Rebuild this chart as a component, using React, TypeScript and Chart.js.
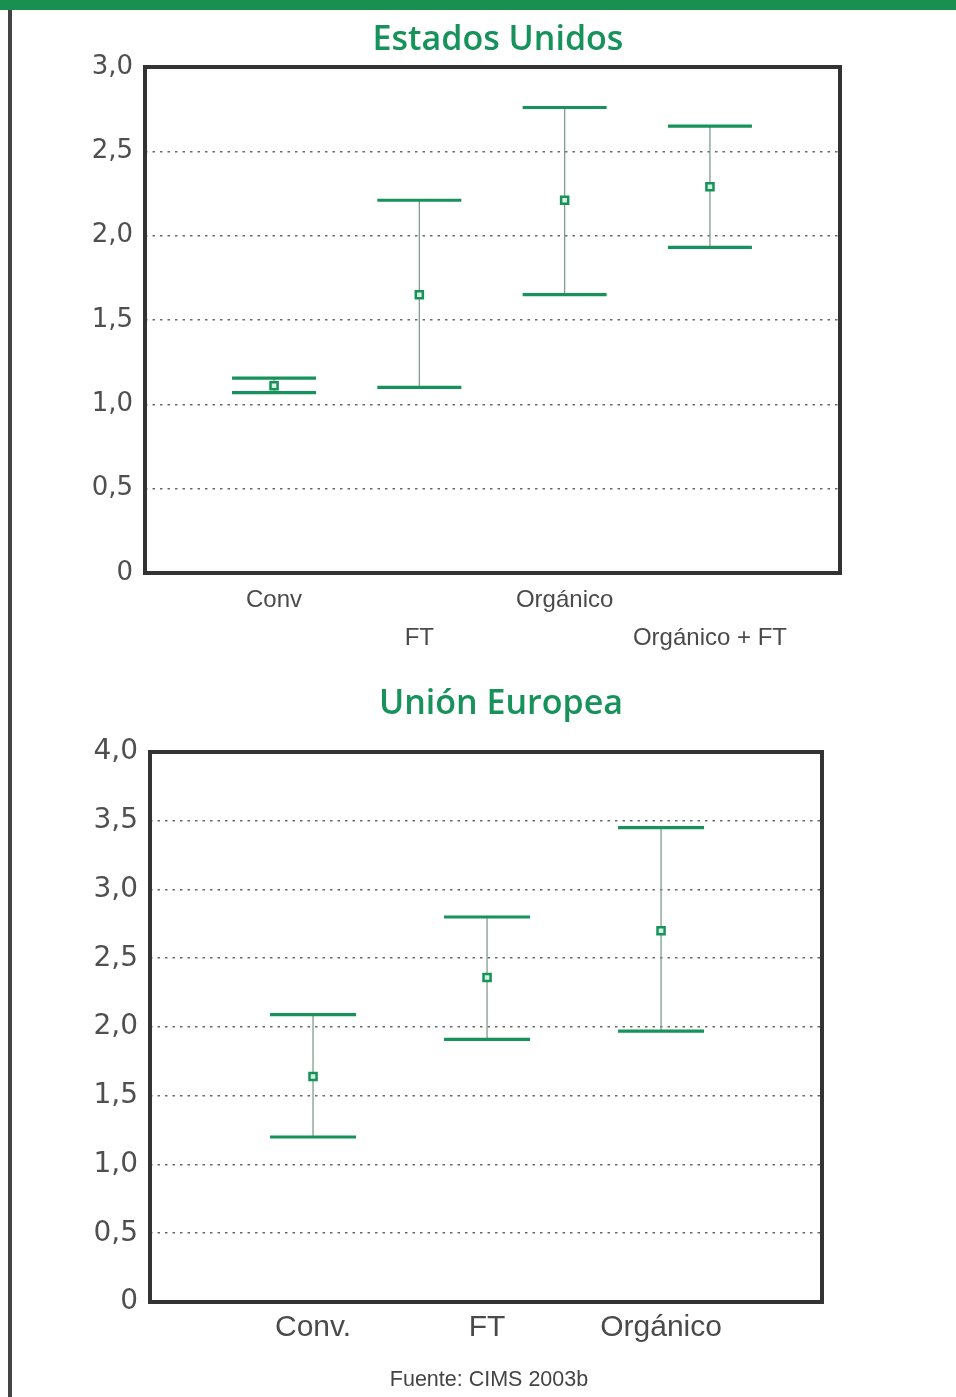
import React, { useEffect, useRef } from "react";
import { Chart, registerables } from "chart.js";

Chart.register(...registerables);

// ---------- Data ----------
const usCategories = ["Conv", "FT", "Orgánico", "Orgánico + FT"];
const usMean = [1.11, 1.65, 2.21, 2.29];
const usLow = [1.07, 1.1, 1.65, 1.93];
const usHigh = [1.155, 2.21, 2.76, 2.65];
const usYTicks = [0, 0.5, 1.0, 1.5, 2.0, 2.5, 3.0];

const euCategories = ["Conv.", "FT", "Orgánico"];
const euMean = [1.64, 2.36, 2.7];
const euLow = [1.2, 1.91, 1.97];
const euHigh = [2.09, 2.8, 3.45];
const euYTicks = [0, 0.5, 1.0, 1.5, 2.0, 2.5, 3.0, 3.5, 4.0];

const GREEN = "#17925a";

const fmt = (v: number) => (v === 0 ? "0" : v.toFixed(1).replace(".", ","));

const errorBarPlugin = {
  id: "errorBars",
  beforeDatasetsDraw(chart: any, _args: any, opts: any) {
    const { ctx, scales } = chart;
    const x = scales.x;
    const y = scales.y;
    (opts.low || []).forEach((lo: number, i: number) => {
      const hi = opts.high[i];
      const px = x.getPixelForValue(i);
      const yl = y.getPixelForValue(lo);
      const yh = y.getPixelForValue(hi);
      ctx.save();
      ctx.strokeStyle = "#7f9c8c";
      ctx.lineWidth = 1.3;
      ctx.beginPath();
      ctx.moveTo(px, yh);
      ctx.lineTo(px, yl);
      ctx.stroke();
      ctx.strokeStyle = GREEN;
      ctx.lineWidth = 3.2;
      ctx.beginPath();
      ctx.moveTo(px - opts.capHalf, yh);
      ctx.lineTo(px + opts.capHalf, yh);
      ctx.moveTo(px - opts.capHalf, yl);
      ctx.lineTo(px + opts.capHalf, yl);
      ctx.stroke();
      ctx.restore();
    });
  },
};

const framePlugin = {
  id: "frame",
  afterDraw(chart: any) {
    const { ctx, chartArea } = chart;
    ctx.save();
    ctx.strokeStyle = "#333";
    ctx.lineWidth = 4;
    ctx.strokeRect(
      chartArea.left,
      chartArea.top,
      chartArea.right - chartArea.left,
      chartArea.bottom - chartArea.top
    );
    ctx.restore();
  },
};

interface Cfg {
  categories: string[];
  mean: number[];
  low: number[];
  high: number[];
  yTicks: number[];
  xMin: number;
  xMax: number;
  yAxisWidth: number;
  xAxisHeight: number;
  padTop: number;
  padRight: number;
  yFont: number;
  xFont: number;
  xLineHeight: number;
  xPadding: number;
  stagger: boolean;
  capHalf: number;
}

function ErrorChart({ cfg, width, height }: { cfg: Cfg; width: number; height: number }) {
  const ref = useRef<HTMLCanvasElement | null>(null);
  useEffect(() => {
    if (!ref.current) return;
    const yMax = cfg.yTicks[cfg.yTicks.length - 1];
    const chart = new Chart(ref.current, {
      type: "scatter",
      data: {
        datasets: [
          {
            data: cfg.mean.map((m, i) => ({ x: i, y: m })),
            pointStyle: "rect",
            pointRadius: 5,
            pointBorderWidth: 2.5,
            pointBorderColor: GREEN,
            pointBackgroundColor: "#d8f2e2",
            showLine: false,
          } as any,
        ],
      },
      options: {
        responsive: false,
        animation: false,
        layout: { padding: { top: cfg.padTop, right: cfg.padRight, left: 0, bottom: 0 } },
        plugins: {
          legend: { display: false },
          tooltip: { enabled: false },
          errorBars: { low: cfg.low, high: cfg.high, capHalf: cfg.capHalf },
        } as any,
        scales: {
          x: {
            type: "linear",
            min: cfg.xMin,
            max: cfg.xMax,
            afterBuildTicks: (s: any) => {
              s.ticks = cfg.categories.map((_, i) => ({ value: i }));
            },
            afterFit: (s: any) => {
              s.height = cfg.xAxisHeight;
            },
            grid: { display: false, drawTicks: false },
            border: { display: false },
            ticks: {
              autoSkip: false,
              maxRotation: 0,
              minRotation: 0,
              padding: cfg.xPadding,
              color: "#4a4a4a",
              font: { family: "'Liberation Sans', Arial, sans-serif", size: cfg.xFont, lineHeight: cfg.xLineHeight },
              callback: (v: any) => {
                const i = Math.round(Number(v));
                const label = cfg.categories[i] ?? "";
                if (cfg.stagger && i % 2 === 1) return ["", label];
                return label;
              },
            },
          },
          y: {
            type: "linear",
            min: 0,
            max: yMax,
            afterBuildTicks: (s: any) => {
              s.ticks = cfg.yTicks.map((v) => ({ value: v }));
            },
            afterFit: (s: any) => {
              s.width = cfg.yAxisWidth;
            },
            grid: {
              drawTicks: false,
              lineWidth: 1.6,
              color: (ctx: any) =>
                ctx.tick && (ctx.tick.value === 0 || ctx.tick.value === yMax)
                  ? "rgba(0,0,0,0)"
                  : "#6a6a6a",
            },
            border: { display: false, dash: [2.5, 5] },
            ticks: {
              padding: 12,
              color: "#4f4f4f",
              font: { family: "'DejaVu Sans', Verdana, sans-serif", size: cfg.yFont },
              callback: (v: any) => fmt(Number(v)),
            },
          },
        },
      },
      plugins: [errorBarPlugin, framePlugin],
    });
    return () => chart.destroy();
  }, [cfg]);
  return <canvas ref={ref} width={width} height={height} style={{ display: "block" }} />;
}

const usCfg: Cfg = {
  categories: usCategories,
  mean: usMean,
  low: usLow,
  high: usHigh,
  yTicks: usYTicks,
  xMin: -0.888,
  xMax: 3.895,
  yAxisWidth: 145,
  xAxisHeight: 107,
  padTop: 67,
  padRight: 116,
  yFont: 26,
  xFont: 24,
  xLineHeight: 1.6,
  xPadding: 8,
  stagger: true,
  capHalf: 42,
};

const euCfg: Cfg = {
  categories: euCategories,
  mean: euMean,
  low: euLow,
  high: euHigh,
  yTicks: euYTicks,
  xMin: -0.937,
  xMax: 2.925,
  yAxisWidth: 150,
  xAxisHeight: 95,
  padTop: 72,
  padRight: 134,
  yFont: 28,
  xFont: 30,
  xLineHeight: 1.2,
  xPadding: 8,
  stagger: false,
  capHalf: 43,
};

const titleStyle: React.CSSProperties = {
  position: "absolute",
  width: 500,
  textAlign: "center",
  color: GREEN,
  fontFamily: "'Open Sans', 'Noto Sans', sans-serif",
  fontWeight: 600,
  fontSize: 34,
  lineHeight: "40px",
  whiteSpace: "nowrap",
};

export default function App() {
  return (
    <div
      style={{
        position: "absolute",
        left: 0,
        top: 0,
        width: 956,
        height: 1397,
        background: "#fff",
        overflow: "hidden",
      }}
    >
      <div style={{ position: "absolute", left: 0, top: 0, width: 956, height: 10, background: "#1a9050" }} />
      <div style={{ position: "absolute", left: 8, top: 10, width: 4, height: 1387, background: "#444" }} />
      <div style={{ position: "absolute", left: 0, top: 0 }}>
        <ErrorChart cfg={usCfg} width={956} height={680} />
      </div>
      <div style={{ position: "absolute", left: 0, top: 680 }}>
        <ErrorChart cfg={euCfg} width={956} height={717} />
      </div>
      <div style={{ ...titleStyle, left: 248, top: 17 }}>Estados Unidos</div>
      <div style={{ ...titleStyle, left: 251, top: 681 }}>Unión Europea</div>
      <div
        style={{
          position: "absolute",
          left: 289,
          width: 400,
          top: 1367,
          textAlign: "center",
          fontFamily: "'Liberation Sans', Arial, sans-serif",
          fontSize: 21.5,
          lineHeight: "24px",
          color: "#444",
        }}
      >
        Fuente: CIMS 2003b
      </div>
    </div>
  );
}
